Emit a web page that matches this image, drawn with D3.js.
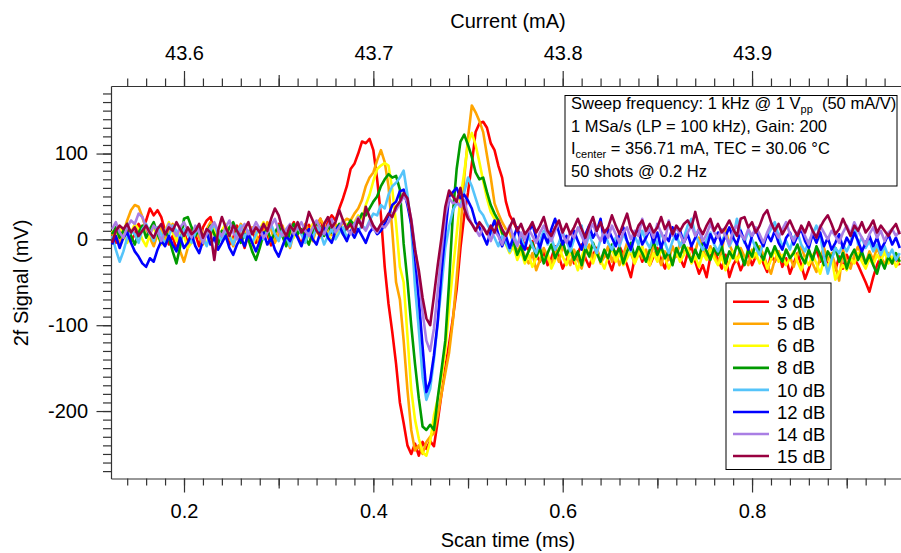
<!DOCTYPE html>
<html>
<head>
<meta charset="utf-8">
<script src="https://cdn.jsdelivr.net/npm/d3@7/dist/d3.min.js"></script>
<style>
  body { margin: 0; background: #fff; }
  svg { display: block; }
  text { font-family: "Liberation Sans", Arial, Helvetica, sans-serif; fill: #000; }
</style>
</head>
<body>
<svg id="chart" width="901" height="553"></svg>
<script>
// ---- data -------------------------------------------------------------
// 2f signal (mV) traces sampled every 4 µs starting at 0.124 ms
const sampleStart = 0.124;   // ms
const sampleStep = 0.004;    // ms

const attenuations = ["3 dB", "5 dB", "6 dB", "8 dB", "10 dB", "12 dB", "14 dB", "15 dB"];
const traceColors = ["#ff0000", "#ffa500", "#ffff00", "#009a00", "#55c4fa", "#0000ff", "#a97ee4", "#990040"];

const sig3dB = [
  8, -4, 12, 3, 15, -2, 6, 18, 10, 22,
  36, 28, 34, 26, 10, -6, 4, -12, 2, 9,
  -5, 12, 6, -8, 14, 22, 26, 8, -3, 5,
  11, -6, 2, 16, 4, -10, 7, 13, -4, 3,
  15, 6, -7, 2, 18, 9, -3, 12, 20, 4,
  -6, 10, 17, 5, 14, 24, 8, 20, 28, 22,
  36, 48, 62, 82, 88, 100, 114, 112, 117, 104,
  70, 28, -32, -75, -108, -145, -190, -214, -240, -250,
  -238, -252, -236, -244, -235, -241, -212, -180, -150, -122,
  -92, -58, -10, 28, 55, 88, 125, 135, 137, 130,
  112, 104, 86, 72, 44, 28, 20, 11, 4, -8,
  -12, -2, -18, -26, -14, -30, -22, -8, -20, -34,
  -24, -12, -28, -16, -6, -22, -32, -18, -10, -26,
  -14, -24, -36, -20, -8, -18, -30, -44, -22, -12,
  -26, -16, -30, -20, -10, -24, -34, -18, -28, -14,
  -22, -32, -16, -8, -26, -40, -30, -44, -20, -12,
  -24, -34, -18, -44, -30, -22, -36, -26, -16, -30,
  -20, -12, -28, -38, -18, -26, -14, -32, -22, -40,
  -28, -16, -30, -46, -34, -20, -12, -26, -18, -30,
  -24, -36, -20, -34, -18, -28, -22, -30, -40, -50,
  -61, -44, -30, -20, -32, -18, -28, -22, -30
];

const sig5dB = [
  4, 12, -6, 8, 22, 34, 40, 38, 26, 12,
  2, -8, 6, 14, -2, 10, 18, 4, -14, -26,
  -10, 6, 14, 2, -6, 12, 20, 8, -4, 10,
  16, 3, -8, 6, 18, 10, -2, 14, 6, -6,
  8, 20, 12, -4, 6, 16, 2, -10, 8, 14,
  6, 18, 10, -2, 12, 24, 16, 10, 5, 18,
  12, 20, 24, 22, 30, 36, 46, 62, 72, 78,
  92, 104, 90, 62, 10, -50, -70, -118, -175, -222,
  -246, -240, -250, -236, -230, -226, -205, -180, -156, -132,
  -95, -45, 10, 72, 118, 156, 148, 138, 125, 98,
  72, 42, 30, 20, 12, 8, -4, -14, -6, -20,
  -28, -16, -36, -24, -10, -20, -30, -14, -26, -8,
  -18, -30, -12, -24, -34, -16, -6, -22, -12, -28,
  -20, -8, -26, -14, -30, -18, -4, -16, -28, -10,
  -22, -12, -26, -6, -18, -30, -14, -24, -8, -20,
  -4, -16, -10, -24, -14, 2, -12, -22, -8, -18,
  -28, -14, 12, -6, -16, -26, -10, -20, -30, -12,
  -22, -8, -18, -30, -40, -24, -14, -26, -12, -20,
  -32, -18, -8, -22, -14, -28, -38, -20, -10, -24,
  -16, -30, -48, -12, -26, -34, -18, -8, -20, -28,
  -14, -24, -10, -20, -30, -16, -26, -18, -22
];

const sig6dB = [
  10, 2, 14, 6, -4, 8, 18, 12, 0, -8,
  6, 14, 4, -6, 10, 20, 8, -2, 12, 4,
  -10, -4, 8, 16, 6, -6, 4, 12, -2, 10,
  18, 6, -4, 8, 2, 14, 6, -8, 4, 12,
  20, 10, -2, 6, 16, 4, -6, 10, 2, 14,
  8, -4, 6, 18, 10, 2, 14, 6, -2, 5,
  12, 8, 18, 14, 20, 28, 24, 40, 52, 68,
  82, 86, 89, 86, 58, 18, -32, -50, -112, -175,
  -210, -232, -248, -252, -236, -205, -186, -160, -130, -80,
  -36, 6, 48, 78, 112, 124, 110, 90, 68, 48,
  32, 24, 18, 6, -6, -16, -8, -24, -14, -28,
  -18, -32, -22, -12, -26, -16, -34, -24, -10, -20,
  -30, -14, -22, -36, -20, -8, -18, -28, -14, -24,
  -34, -20, -10, -26, -16, -30, -22, -12, -28, -18,
  -8, -22, -30, -16, -26, -12, -20, -34, -24, -14,
  -26, -18, -10, -28, -20, -32, -16, -24, -12, -22,
  -30, -20, -36, -26, -14, -24, -18, -28, -10, -22,
  -16, -28, -20, -34, -24, -12, -26, -18, -30, -22,
  -14, -26, -36, -22, -30, -18, -28, -40, -24, -32,
  -20, -47, -38, -30, -36, -22, -28, -16, -26, -34,
  -22, -30, -18, -26, -14, -28, -20, -32, -24
];

const sig8dB = [
  6, 14, 2, 10, 18, 4, -6, 8, 16, 2,
  12, 20, 6, -4, 10, 2, -14, -28, -8, 24,
  26, 14, 4, 12, -2, 8, 16, 6, -6, 10,
  4, 14, 20, 8, -4, 6, 0, -14, -24, -10,
  6, 12, -2, 8, 16, 4, -8, 10, 18, 6,
  12, 2, -6, 10, 20, 14, 4, 16, 8, 10,
  18, 6, 14, 22, 16, 20, 30, 28, 36, 44,
  50, 62, 70, 76, 72, 74, 58, -5, -48, -100,
  -145, -185, -218, -222, -216, -222, -185, -152, -118, -50,
  30, 82, 114, 122, 110, 96, 78, 70, 72, 55,
  40, 30, 22, 8, -4, -12, -2, -18, -8, -24,
  -14, -4, -20, -10, -28, -16, -6, -22, -12, -2,
  -18, -8, -24, -14, -30, -10, -20, -4, -16, -26,
  -12, -22, -6, -18, -10, -28, -14, -4, -20, -8,
  -16, -26, -12, -2, -18, -8, -22, -14, -30, -10,
  -20, -6, -16, -26, -12, -22, -4, -14, -24, -10,
  -18, -8, -28, -14, -22, -6, -16, -30, -12, -20,
  -4, -14, -24, -10, -20, -8, -18, -26, -12, -22,
  -16, -6, -20, -28, -12, -24, -8, -18, -30, -14,
  -22, -10, -26, -16, -34, -20, -12, -24, -14, -28,
  -18, -30, -40, -24, -34, -20, -28, -16, -26
];

const sig10dB = [
  4, -12, -26, -14, 2, 10, 6, -4, 12, 18,
  8, -2, 14, 6, -6, 4, 16, 10, 0, 12,
  6, -4, 8, 14, 2, -8, 10, 18, 6, -2,
  12, 4, -6, 8, 16, 2, 10, -4, 6, 14,
  0, 10, 18, 6, -2, 12, 4, -8, 8, 16,
  6, -4, 10, 2, 14, 8, -6, 4, 12, 0,
  8, 14, 2, 10, 18, 10, 16, 12, 22, 30,
  28, 40, 36, 52, 62, 66, 72, 80, 52, 14,
  -55, -105, -160, -187, -174, -140, -97, -55, -10, 15,
  34, 42, 40, 55, 72, 62, 48, 34, 28, 18,
  10, 2, -8, 4, -4, -14, 6, -6, 2, -10,
  4, -8, -16, -2, 10, -6, 2, -12, -4, 8,
  -2, -14, 0, 12, 16, -10, 6, -6, -16, 0,
  8, -4, -12, 2, -8, 6, -2, -14, 4, -6,
  10, -2, -10, 4, -6, 8, -4, -16, -2, 6,
  -8, 2, 16, 24, 6, -4, -12, 0, 8, -6,
  -14, -2, 6, -8, 2, 24, 10, -4, 10, 0,
  -10, -18, -4, 4, 12, 20, 4, -8, -2, -12,
  2, 8, -6, -14, -2, 6, 16, 4, -20, -40,
  -24, -10, -16, -6, -14, -4, 18, -6, 2, -10,
  -2, -14, -6, -18, -8, -20, -12, -24, -16
];

const sig12dB = [
  -6, 4, -10, 2, 8, -4, -14, -20, -28, -32,
  -22, -26, -12, -2, -8, 4, -6, -14, 2, -10,
  -4, 6, -8, -16, -2, 8, -6, 2, -12, -4,
  4, -10, -18, -6, 2, -8, 6, -4, -14, -2,
  8, -6, 2, -12, -20, -8, 4, -2, 10, 2,
  -8, 6, 12, 0, -6, 8, 14, 2, -4, 10,
  16, 6, -2, 10, 2, 12, 4, -4, 8, 14,
  6, 10, 18, 28, 40, 44, 56, 58, 40, 18,
  -20, -70, -125, -178, -165, -135, -96, -38, 8, 50,
  55, 60, 48, 52, 45, 36, 20, 14, 4, -6,
  10, 22, 6, -8, 4, -10, 2, 14, -4, -12,
  8, 18, 2, -10, 6, -4, 12, 24, 8, -6,
  4, -8, 10, -2, -12, 6, 16, 2, 10, 24,
  -4, 12, 2, -8, 6, 14, -2, -12, 4, 10,
  -6, 2, 12, -4, 8, -10, 4, -2, 14, 0,
  10, -4, 6, -8, 2, 12, -2, -10, 6, -4,
  8, -6, 4, 14, 2, -6, 10, -2, -12, 4,
  12, 0, -8, 6, -2, 10, -4, -12, 2, 8,
  -6, 4, 12, -2, -10, 6, -4, 8, -8, 2,
  -12, -4, 6, -10, 2, -6, 8, -2, -14, -4,
  4, -8, 2, -12, -4, 6, -6, 2, -10
];

const sig14dB = [
  12, 20, 8, 2, 14, 22, 18, 30, 26, 14,
  6, 16, 10, -2, 8, 18, 12, 4, 14, 20,
  10, 2, 16, 8, -4, 6, 14, 20, 10, 4,
  14, 22, 8, 0, 12, 18, 6, 10, 20, 12,
  2, 8, 16, 24, 10, 4, 12, 18, 6, 14,
  20, 10, 4, 14, 22, 12, 6, 16, 24, 8,
  14, 22, 12, 6, 18, 26, 16, 10, 20, 12,
  8, 16, 14, 20, 30, 34, 42, 50, 44, 24,
  -10, -42, -85, -118, -130, -104, -60, -15, 28, 48,
  42, 44, 38, 46, 28, 18, 12, 4, 14, 8,
  -2, 10, 4, -6, 6, 16, 2, -8, 8, 0,
  12, 4, -4, 8, 16, 6, -2, 10, 20, 6,
  -4, 8, 2, 14, 4, -6, 10, 18, 6, -2,
  10, 2, 16, 6, -4, 8, 14, 0, 10, 4,
  24, 6, 12, 2, 18, 8, -2, 22, 4, 14,
  6, -4, 8, 16, 4, 12, -2, 6, 18, 8,
  2, 12, 4, -6, 10, 16, 6, 0, 12, 4,
  14, 6, -4, 8, 18, 10, 2, 12, 20, 6,
  -2, 8, 14, 4, -6, 10, 2, 16, 8, 0,
  10, 4, -4, 8, 16, 6, 20, 10, 2, -6,
  6, 14, 2, 10, -2, 8, 12, 4, 10
];

const sig15dB = [
  -4, 10, 16, 12, 18, 8, 14, 4, 10, 16,
  8, 2, 12, 18, 6, 14, 10, 20, 12, 4,
  14, 6, 10, 18, 2, 12, 8, -24, 10, 26,
  14, 4, 16, 10, 2, 12, 20, 6, 14, 8,
  18, 10, 24, 36, 28, 12, 4, 16, 10, 20,
  8, 14, 32, 22, 10, 4, 18, 26, 14, 20,
  34, 22, 12, 18, 8, 24, 14, 38, 26, 16,
  10, 18, 22, 30, 26, 38, 44, 54, 48, 22,
  -12, -36, -68, -92, -100, -66, -30, 2, 38, 57,
  50, 44, 60, 36, 24, 18, 10, 20, 14, 6,
  16, 8, 22, 12, 4, 14, 24, 10, 18, 6,
  12, 20, 8, 16, 26, 10, 4, 14, 22, 8,
  18, 6, 14, 24, 12, 2, 16, 26, 10, 20,
  8, 14, 28, 16, 6, 18, 30, 12, 4, 16,
  22, 10, 18, 8, 14, 26, 12, 20, 6, 16,
  10, 18, 22, 14, 32, 14, 6, 16, 24, 10,
  18, 8, 14, 22, 12, 4, 24, 26, 14, 20,
  8, 16, 28, 34, 20, 10, 18, 6, 14, 22,
  12, 4, 16, 8, 20, 10, 2, 14, 22, 28,
  18, 6, 12, 24, 14, 4, 16, 10, 20, 8,
  14, 22, 8, 16, 10, 4, 12, 18, 6
];

const signals = [sig3dB, sig5dB, sig6dB, sig8dB, sig10dB, sig12dB, sig14dB, sig15dB];

// axis ticks
const timeMajorTicks = [0.2, 0.4, 0.6, 0.8];
const timeMidTicks = [0.3, 0.5, 0.7, 0.9];
const currentMajorTicks = [43.6, 43.7, 43.8, 43.9];
const currentMidTicks = [43.65, 43.75, 43.85, 43.95];
const signalMajorTicks = [-200, -100, 0, 100];

const infoLines = [
  [{t: "Sweep frequency: 1 kHz @ 1 V"}, {t: "pp", sub: true}, {t: "\u00a0\u00a0(50 mA/V)"}],
  [{t: "1 MSa/s (LP = 100 kHz), Gain: 200"}],
  [{t: "I"}, {t: "center", sub: true}, {t: " = 356.71 mA, TEC = 30.06 \u00b0C"}],
  [{t: "50 shots @ 0.2 Hz"}]
];

// ---- layout -----------------------------------------------------------
const plot = {left: 111, right: 901, top: 86, bottom: 478.5};
const svg = d3.select("#chart");

const x = d3.scaleLinear().domain([0.12289, 0.95733]).range([plot.left, plot.right]);
const y = d3.scaleLinear().domain([-278.6, 178.7]).range([plot.bottom, plot.top]);
// laser current follows the scan: 0.05 mA per 0.1 ms, 43.6 mA at 0.2 ms
const toCurrent = t => 43.6 + (t - 0.2) * 0.5;
const xc = d3.scaleLinear().domain(x.domain().map(toCurrent)).range([plot.left, plot.right]);

function styleAxis(g) {
  g.selectAll("path, line").attr("stroke", "#333").attr("stroke-width", 1.2);
  g.selectAll("text").style("font-size", "20px").attr("fill", "#000");
}
const dropDomain = g => g.select(".domain").remove();

// bottom axis: scan time
const timeAxisG = svg.append("g").attr("transform", `translate(0,${plot.bottom})`);
timeAxisG.append("g").call(d3.axisBottom(x).tickValues(d3.range(7, 48).map(k => k * 0.02))
  .tickSize(7).tickFormat("")).call(dropDomain).call(styleAxis);
timeAxisG.append("g").call(d3.axisBottom(x).tickValues(timeMidTicks).tickSize(10).tickFormat(""))
  .call(dropDomain).call(styleAxis);
timeAxisG.append("g").call(d3.axisBottom(x).tickValues(timeMajorTicks).tickSize(14).tickSizeOuter(0)
  .tickPadding(11).tickFormat(d3.format(".1f"))).call(styleAxis);

// top axis: current
const currentAxisG = svg.append("g").attr("transform", `translate(0,${plot.top})`);
currentAxisG.append("g").call(d3.axisTop(xc).tickValues(d3.range(4357, 4400).map(k => k / 100))
  .tickSize(7.5).tickFormat("")).call(dropDomain).call(styleAxis);
currentAxisG.append("g").call(d3.axisTop(xc).tickValues(currentMidTicks).tickSize(11).tickFormat(""))
  .call(dropDomain).call(styleAxis);
currentAxisG.append("g").call(d3.axisTop(xc).tickValues(currentMajorTicks).tickSize(15).tickSizeOuter(0)
  .tickPadding(11.5).tickFormat(d3.format(".1f"))).call(styleAxis);

// left axis: signal (plain hyphen for negative labels)
const signalAxisG = svg.append("g").attr("transform", `translate(${plot.left},0)`);
signalAxisG.append("g").call(d3.axisLeft(y).tickValues(d3.range(-270, 171, 10)).tickSize(8).tickFormat(""))
  .call(dropDomain).call(styleAxis);
signalAxisG.append("g").call(d3.axisLeft(y).tickValues(signalMajorTicks).tickSize(14.5).tickSizeOuter(0)
  .tickPadding(8.5).tickFormat(d => String(d))).call(styleAxis);

// axis titles
svg.append("text").attr("x", 508).attr("y", 28).attr("text-anchor", "middle")
  .style("font-size", "20px").text("Current (mA)");
svg.append("text").attr("x", 508).attr("y", 547).attr("text-anchor", "middle")
  .style("font-size", "20px").text("Scan time (ms)");
svg.append("text").attr("transform", "translate(28,283) rotate(-90)").attr("text-anchor", "middle")
  .style("font-size", "20px").text("2f Signal (mV)");

// traces
const line = d3.line()
  .x((d, i) => x(sampleStart + i * sampleStep))
  .y(d => y(d));
svg.append("defs").append("clipPath").attr("id", "plot-clip")
  .append("rect").attr("x", plot.left).attr("y", plot.top)
  .attr("width", plot.right - plot.left).attr("height", plot.bottom - plot.top);
svg.append("g").attr("clip-path", "url(#plot-clip)")
  .selectAll("path").data(signals).join("path")
  .attr("d", line)
  .attr("fill", "none")
  .attr("stroke", (d, i) => traceColors[i])
  .attr("stroke-width", 2.6)
  .attr("stroke-linejoin", "round");

// info box
const info = svg.append("g");
info.append("rect").attr("x", 565).attr("y", 95.5).attr("width", 332).attr("height", 90.5)
  .attr("fill", "#fff").attr("stroke", "#000").attr("stroke-width", 1);
infoLines.forEach((parts, k) => {
  const t = info.append("text").attr("x", 571).attr("y", 109 + k * 22.7).style("font-size", "16.5px");
  let afterSub = false;
  parts.forEach(p => {
    const s = t.append("tspan").text(p.t);
    if (p.sub) { s.style("font-size", "11px").attr("dy", 4); afterSub = true; }
    else if (afterSub) { s.attr("dy", -4); afterSub = false; }
  });
});

// legend
const legend = svg.append("g");
legend.append("rect").attr("x", 726).attr("y", 283).attr("width", 105).attr("height", 186.5)
  .attr("fill", "#fff").attr("stroke", "#000").attr("stroke-width", 1);
attenuations.forEach((name, i) => {
  const yy = 301.7 + i * 22.05;
  legend.append("line").attr("x1", 733).attr("x2", 769).attr("y1", yy).attr("y2", yy)
    .attr("stroke", traceColors[i]).attr("stroke-width", 2.6);
  legend.append("text").attr("x", 777).attr("y", yy + 6.6).style("font-size", "18.5px").text(name);
});
</script>
</body>
</html>
